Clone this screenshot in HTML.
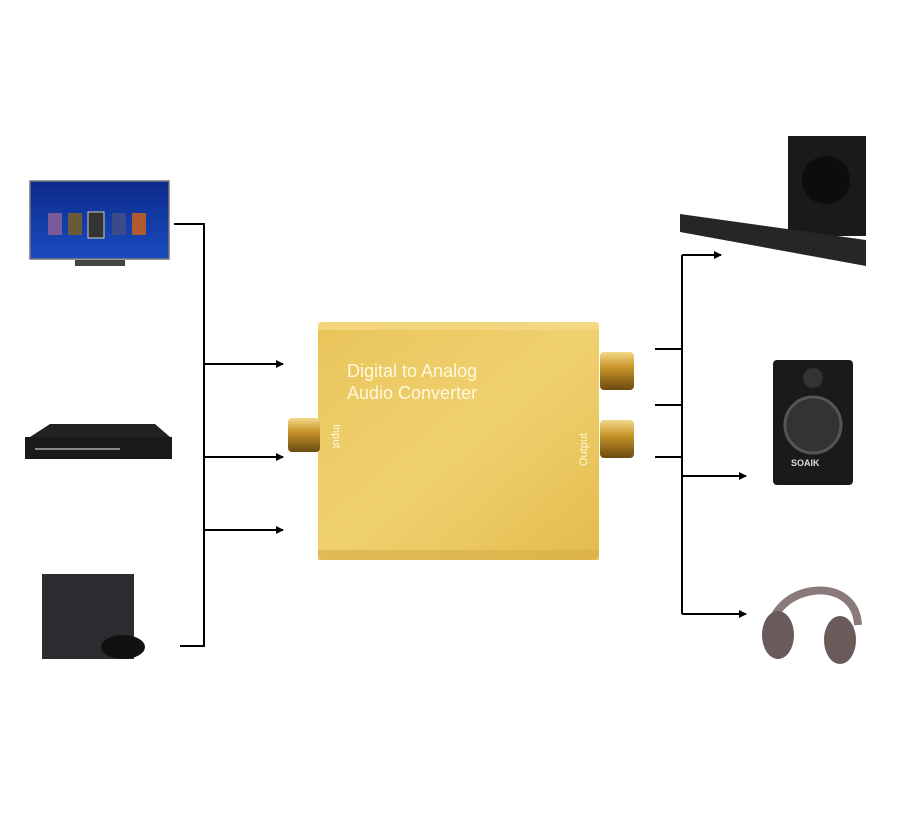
<!DOCTYPE html>
<html><head><meta charset="utf-8"><style>
body{margin:0;background:#fff;}
svg{display:block}
text{font-family:"Liberation Sans",sans-serif}
</style></head><body>
<svg width="903" height="832" viewBox="0 0 903 832" xmlns="http://www.w3.org/2000/svg">
<defs>
<linearGradient id="gold" x1="0" y1="0" x2="1" y2="1">
<stop offset="0" stop-color="#e9c45a"/><stop offset="0.5" stop-color="#f0d170"/><stop offset="1" stop-color="#e3bb4c"/></linearGradient>
<linearGradient id="jack" x1="0" y1="0" x2="0" y2="1">
<stop offset="0" stop-color="#f3d98a"/><stop offset="0.4" stop-color="#c8952a"/><stop offset="1" stop-color="#6b4a10"/></linearGradient>
<linearGradient id="tv" x1="0" y1="0" x2="0" y2="1">
<stop offset="0" stop-color="#0c2a8a"/><stop offset="1" stop-color="#1a4cc0"/></linearGradient>
<marker id="ar" markerWidth="8" markerHeight="8" refX="7" refY="4" orient="auto" markerUnits="userSpaceOnUse">
<path d="M0,0 L8,4 L0,8 z" fill="#000"/></marker>
</defs>
<g stroke="#000" stroke-width="2" fill="none">
<polyline points="174,224 204,224 204,646 180,646"/>
<line x1="204" y1="364" x2="283" y2="364" marker-end="url(#ar)"/>
<line x1="204" y1="457" x2="283" y2="457" marker-end="url(#ar)"/>
<line x1="204" y1="530" x2="283" y2="530" marker-end="url(#ar)"/>
<line x1="682" y1="255" x2="682" y2="614"/>
<line x1="655" y1="349" x2="682" y2="349"/>
<line x1="655" y1="405" x2="682" y2="405"/>
<line x1="655" y1="457" x2="682" y2="457"/>
<line x1="682" y1="255" x2="721" y2="255" marker-end="url(#ar)"/>
<line x1="682" y1="476" x2="746" y2="476" marker-end="url(#ar)"/>
<line x1="682" y1="614" x2="746" y2="614" marker-end="url(#ar)"/>
</g>
<!-- converter -->
<rect x="318" y="322" width="281" height="238" rx="6" fill="url(#gold)"/>
<rect x="318" y="322" width="281" height="8" fill="#f5dc8a" opacity="0.7"/>
<rect x="318" y="550" width="281" height="10" fill="#d9b04a" opacity="0.7"/>
<rect x="288" y="418" width="32" height="34" rx="4" fill="url(#jack)"/>
<rect x="600" y="352" width="34" height="38" rx="4" fill="url(#jack)"/>
<rect x="600" y="420" width="34" height="38" rx="4" fill="url(#jack)"/>
<text x="347" y="377" style="font-family:'Liberation Sans',sans-serif;font-size:18px" fill="#fff8e0">Digital to Analog</text>
<text x="347" y="399" style="font-family:'Liberation Sans',sans-serif;font-size:18px" fill="#fff8e0">Audio Converter</text>
<text transform="translate(333,424) rotate(90)" style="font-family:'Liberation Sans',sans-serif;font-size:11px" fill="#fff8e0">Input</text>
<text transform="translate(587,466) rotate(-90)" style="font-family:'Liberation Sans',sans-serif;font-size:11px" fill="#fff8e0">Output</text>
<!-- TV -->
<rect x="30" y="181" width="139" height="78" fill="url(#tv)" stroke="#777" stroke-width="1.5"/>
<rect x="48" y="213" width="14" height="22" fill="#7a5a9a"/><rect x="68" y="213" width="14" height="22" fill="#6a5a3a"/>
<rect x="88" y="212" width="16" height="26" fill="#333" stroke="#ccc"/><rect x="112" y="213" width="14" height="22" fill="#3a4a8a"/><rect x="132" y="213" width="14" height="22" fill="#b05a30"/>
<rect x="75" y="260" width="50" height="6" fill="#444"/>
<!-- DVD -->
<polygon points="30,437 50,424 155,424 170,437 170,458 30,458" fill="#222"/>
<rect x="25" y="437" width="147" height="22" fill="#1a1a1a"/>
<line x1="35" y1="449" x2="120" y2="449" stroke="#888" stroke-width="2"/>
<!-- PS4 -->
<rect x="42" y="574" width="92" height="85" fill="#2a2c30"/>
<ellipse cx="123" cy="647" rx="22" ry="12" fill="#111"/>
<!-- soundbar + sub -->
<rect x="788" y="136" width="78" height="100" fill="#1a1a1a"/>
<circle cx="826" cy="180" r="24" fill="#0d0d0d"/>
<polygon points="680,214 866,240 866,266 680,232" fill="#262626"/>
<!-- speaker -->
<rect x="773" y="360" width="80" height="125" rx="4" fill="#1a1a1a"/>
<circle cx="813" cy="425" r="28" fill="#333" stroke="#555" stroke-width="3"/>
<circle cx="813" cy="378" r="10" fill="#333"/>
<text x="791" y="466" style="font-family:'Liberation Sans',sans-serif;font-size:9px;font-weight:bold" fill="#ddd">SOAIK</text>
<!-- headphones -->
<path d="M770,640 C765,585 855,570 858,625" stroke="#8a7a7a" stroke-width="8" fill="none"/>
<ellipse cx="778" cy="635" rx="16" ry="24" fill="#6a5a5a"/>
<ellipse cx="840" cy="640" rx="16" ry="24" fill="#6a5a5a"/>
</svg>
</body></html>
